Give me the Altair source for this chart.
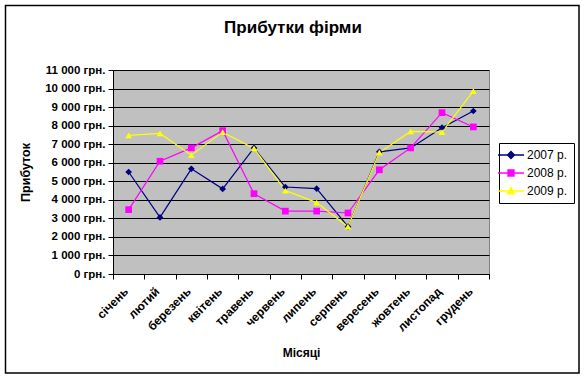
import altair as alt
import pandas as pd

months = ["січень", "лютий", "березень", "квітень", "травень", "червень",
          "липень", "серпень", "вересень", "жовтень", "листопад", "грудень"]
series = ["2007 р.", "2008 р.", "2009 р."]
v2007 = [5500, 3050, 5670, 4590, 6800, 4690, 4600, 2550, 6590, 6800, 7890, 8790]
v2008 = [3470, 6080, 6800, 7730, 4330, 3390, 3390, 3290, 5620, 6800, 8700, 7930]
v2009 = [7470, 7580, 6410, 7650, 6770, 4500, 3850, 2550, 6550, 7690, 7650, 9860]
y_ticks = list(range(0, 11001, 1000))

colors = ["#000080", "#FF00FF", "#FFFF00"]
shapes = ["diamond", "square", "triangle-up"]
legend_paths = [
    "M-2.6,0H2.6M0,-0.7L0.7,0L0,0.7L-0.7,0Z",
    "M-2.6,0H2.6M-0.6,-0.6H0.6V0.6H-0.6Z",
    "M-2.6,0H2.6M0,-0.75L0.7,0.55H-0.7Z",
]

rows = []
for s, vals in zip(series, [v2007, v2008, v2009]):
    for m, v in zip(months, vals):
        rows.append({"Місяць": m, "Серія": s, "Прибуток": v})
df = pd.DataFrame(rows)

FONT = "Liberation Sans"

x_enc = alt.X(
    "Місяць:N", sort=months,
    scale=alt.Scale(paddingInner=0, paddingOuter=0),
    axis=alt.Axis(
        title="Місяці", titleFont=FONT, titleFontSize=12, titleFontWeight="bold",
        titleColor="black", titleY=73, titleX=188,
        labelAngle=-45, labelAlign="right", labelBaseline="middle",
        labelFont=FONT, labelFontSize=12, labelFontWeight="bold", labelColor="black",
        labelPadding=10, labelOffset=-3, tickBand="extent", ticks=True, tickSize=5,
        tickColor="black", domainColor="black", grid=False, labelOverlap=False,
    ),
)
y_enc = alt.Y(
    "Прибуток:Q",
    scale=alt.Scale(domain=[0, 11000], nice=False),
    axis=alt.Axis(
        values=y_ticks, title="Прибуток", titleFont=FONT, titleFontSize=12.5,
        titleFontWeight="bold", titleColor="black", titleX=-81, titleY=102,
        labelExpr="replace(format(datum.value, ','), ',', ' ') + ' грн.'",
        labelFont=FONT, labelFontSize=11.5, labelFontWeight="bold", labelColor="black",
        labelPadding=3, tickSize=5, tickColor="black", domainColor="black",
        grid=True, gridColor="black", gridWidth=1, gridOpacity=1,
    ),
)

color_scale = alt.Scale(domain=series, range=colors)

base = alt.Chart(df)

lines = base.mark_line(strokeWidth=1.2).encode(
    x=x_enc, y=y_enc,
    color=alt.Color("Серія:N", scale=color_scale, legend=None),
)
points = base.mark_point(filled=True, size=45, opacity=1).encode(
    x=x_enc, y=y_enc,
    color=alt.Color("Серія:N", scale=color_scale, legend=None),
    shape=alt.Shape("Серія:N", scale=alt.Scale(domain=series, range=shapes), legend=None),
)


def make_legend():
    return alt.Legend(
        title=None, orient="none", legendX=386, legendY=73,
        strokeColor="black", fillColor="white", padding=6,
        labelFont=FONT, labelFontSize=12, labelColor="black",
        symbolSize=100, symbolStrokeWidth=1.3, labelOffset=10,
        rowPadding=5,
    )


leg = base.mark_point(filled=True, size=0, opacity=1).encode(
    x=x_enc, y=y_enc,
    fill=alt.Fill("Серія:N", scale=color_scale, legend=make_legend()),
    stroke=alt.Stroke("Серія:N", scale=color_scale, legend=make_legend()),
    shape=alt.Shape("Серія:N", scale=alt.Scale(domain=series, range=legend_paths),
                    legend=make_legend()),
)

border = alt.Chart(pd.DataFrame({"a": [0]})).mark_rect(
    filled=False, stroke="black", strokeWidth=1.5
).encode(
    x=alt.value(-107.5), x2=alt.value(466),
    y=alt.value(-64.5), y2=alt.value(303),
)

chart = alt.layer(lines, points, leg, border).resolve_scale(
    color="independent", shape="independent", fill="independent", stroke="independent"
).properties(
    width=376, height=204,
    title=alt.TitleParams("Прибутки фірми", font=FONT, fontSize=17, fontWeight="bold",
                          color="black", anchor="middle", dx=-8, offset=-45,
                          baseline="alphabetic"),
    autosize=alt.AutoSizeParams(type="none"),
    padding={"left": 113, "top": 70, "right": 96, "bottom": 104},
    background="white",
).configure_view(
    fill="#C0C0C0", stroke="#808080", strokeWidth=1,
)

chart.save("out.html", embed_options={"renderer": "svg", "actions": False})
